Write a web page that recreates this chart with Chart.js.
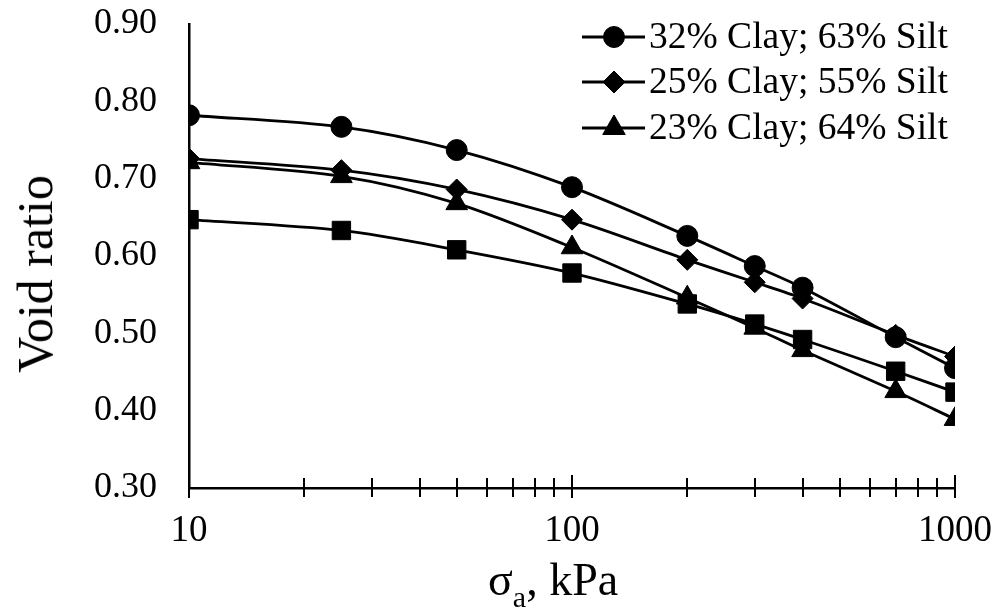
<!DOCTYPE html>
<html>
<head>
<meta charset="utf-8">
<script src="https://cdn.jsdelivr.net/npm/chart.js@4/dist/chart.umd.min.js"></script>
<style>
  body { margin: 0; background: #fff; }
  #wrap { position: relative; width: 1008px; height: 609px; font-family: "Liberation Serif", "Times New Roman", serif; color: #000; }
  #y-title { position: absolute; left: 35px; top: 274px; font-size: 50px; line-height: 1; white-space: nowrap;
             transform: translate(-50%, -50%) rotate(-90deg); }
  #x-title { position: absolute; left: 488px; top: 557px; font-size: 46px; line-height: 1; white-space: nowrap; }
  #x-title span { font-size: 30px; vertical-align: -12px; }
</style>
</head>
<body>
<div id="wrap">
  <canvas id="void-chart" width="1008" height="609"></canvas>
  <div id="y-title">Void ratio</div>
  <div id="x-title">σ<span>a</span>, kPa</div>
</div>
<script>
// applied stress (kPa) and void ratio for each soil
const stress = [10, 25, 50, 100, 200, 300, 400, 700, 1000];
const clay32 = [0.782, 0.767, 0.737, 0.689, 0.626, 0.587, 0.559, 0.495, 0.455];
const clay25 = [0.726, 0.711, 0.686, 0.647, 0.595, 0.566, 0.545, 0.498, 0.470];
const clay23 = [0.721, 0.703, 0.668, 0.611, 0.546, 0.507, 0.478, 0.425, 0.389];
const squareSoil = [0.647, 0.633, 0.608, 0.578, 0.538, 0.512, 0.492, 0.451, 0.424];

const seriesLabels = ['32% Clay; 63% Silt', '25% Clay; 55% Silt', '23% Clay; 64% Silt', ''];
const yTicks = [0.3, 0.4, 0.5, 0.6, 0.7, 0.8, 0.9];
const xLabelTicks = [10, 100, 1000];
const xMinorTicks = [20, 30, 40, 50, 60, 70, 80, 90, 200, 300, 400, 500, 600, 700, 800, 900];

function series(label, values, style, radius) {
    return {
        label: label,
        data: stress.map((x, i) => ({ x: x, y: values[i] })),
        borderColor: '#000',
        backgroundColor: '#000',
        borderWidth: 2.8,
        pointStyle: style,
        pointRadius: radius,
        pointBorderWidth: 1,
        tension: 0.3
    };
}

// legend drawn inside the plot, top right, with line + marker
const lineLegend = {
    id: 'lineLegend',
    afterDraw(chart) {
        const ctx = chart.ctx;
        const rows = [37, 82, 128];
        const sizes = [10.5, 11, 13];
        ctx.save();
        ctx.font = '37.5px "Liberation Serif"';
        ctx.textBaseline = 'middle';
        ctx.fillStyle = '#000';
        ctx.strokeStyle = '#000';
        for (let i = 0; i < 3; i++) {
            const ds = chart.data.datasets[i];
            const y = rows[i];
            ctx.lineWidth = 2.8;
            ctx.beginPath();
            ctx.moveTo(582, y);
            ctx.lineTo(645, y);
            ctx.stroke();
            ctx.lineWidth = 1;
            Chart.helpers.drawPoint(ctx, { pointStyle: ds.pointStyle, radius: sizes[i], rotation: 0, borderWidth: 1 }, 614, y);
            ctx.fillText(ds.label, 649, y + 1);
        }
        ctx.restore();
    }
};

// tick marks crossing the log axis
const crossTicks = {
    id: 'crossTicks',
    afterDraw(chart) {
        const ctx = chart.ctx;
        const xs = chart.scales.x;
        const base = chart.chartArea.bottom;
        ctx.save();
        ctx.strokeStyle = '#000';
        ctx.lineWidth = 2;
        ctx.beginPath();
        xMinorTicks.forEach(v => {
            const px = Math.round(xs.getPixelForValue(v));
            ctx.moveTo(px, base - 10);
            ctx.lineTo(px, base + 9);
        });
        xLabelTicks.forEach(v => {
            const px = Math.round(xs.getPixelForValue(v));
            ctx.moveTo(px, base - 13);
            ctx.lineTo(px, base + 10);
        });
        ctx.stroke();
        ctx.restore();
    }
};

new Chart(document.getElementById('void-chart'), {
    type: 'line',
    data: {
        datasets: [
            series(seriesLabels[0], clay32, 'circle', 10.5),
            series(seriesLabels[1], clay25, 'rectRot', 10.5),
            series(seriesLabels[2], clay23, 'triangle', 12.5),
            series(seriesLabels[3], squareSoil, 'rect', 13)
        ]
    },
    options: {
        responsive: false,
        animation: false,
        layout: { padding: { top: 24, right: 53, left: 0, bottom: 0 } },
        plugins: { legend: { display: false }, tooltip: { enabled: false } },
        scales: {
            x: {
                type: 'logarithmic',
                min: 10,
                max: 1000,
                afterBuildTicks: scale => { scale.ticks = xLabelTicks.map(v => ({ value: v })); },
                afterFit: scale => {
                    scale.height = 121;
                    scale.paddingLeft = 0;
                    scale.paddingRight = 0;
                },
                grid: { display: false, drawTicks: false },
                border: { display: true, color: '#000', width: 2.5 },
                ticks: {
                    padding: 21,
                    color: '#000',
                    maxRotation: 0,
                    font: { family: 'Liberation Serif', size: 37 },
                    callback: v => String(v)
                }
            },
            y: {
                min: 0.3,
                max: 0.9,
                afterBuildTicks: scale => { scale.ticks = yTicks.map(v => ({ value: v })); },
                afterFit: scale => {
                    scale.width = 189;
                    scale.paddingTop = 0;
                    scale.paddingBottom = 0;
                },
                grid: { display: false, drawTicks: false },
                border: { display: true, color: '#000', width: 2.5 },
                ticks: {
                    padding: 32,
                    color: '#000',
                    font: { family: 'Liberation Serif', size: 36 },
                    callback: v => v.toFixed(2)
                }
            }
        }
    },
    plugins: [lineLegend, crossTicks]
});
</script>
</body>
</html>
